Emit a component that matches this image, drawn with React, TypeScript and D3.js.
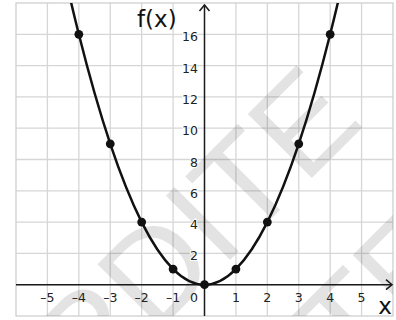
import React from "react";
import * as d3 from "d3";

// f(x) = x² sampled at integer x
const pointX = [-4, -3, -2, -1, 0, 1, 2, 3, 4];
const pointY = [16, 9, 4, 1, 0, 1, 4, 9, 16];

// extra table rows so the curve runs off the top of the grid
const curveX = [-6, -5, -4, -3, -2, -1, 0, 1, 2, 3, 4, 5, 6];
const curveY = [36, 25, 16, 9, 4, 1, 0, 1, 4, 9, 16, 25, 36];

const xTicks = [-5, -4, -3, -2, -1, 1, 2, 3, 4, 5];
const yTicks = [2, 4, 6, 8, 10, 12, 14, 16];
const xGrid = [-5, -4, -3, -2, -1, 1, 2, 3, 4, 5];
const yGrid = [0, 2, 4, 6, 8, 10, 12, 14, 16];

const W = 396;
const H = 320;
const LABEL_FONT = "'DejaVu Sans', Verdana, sans-serif";

export default function App() {
  const x = d3.scaleLinear().domain([-6, 6]).range([16, 393]);
  const y = d3.scaleLinear().domain([-2, 18]).range([316, 3]);

  const line = d3
    .line<number>()
    .x((_, i) => x(curveX[i]))
    .y((d) => y(d))
    .curve(d3.curveCatmullRom.alpha(0));

  const x0 = x(0);
  const y0 = y(0);
  const left = x(-6);
  const right = x(6);
  const top = y(18);
  const bottom = y(-2);

  const fmt = (v: number) => (v < 0 ? "\u2013" + Math.abs(v) : String(v));

  return (
    <svg
      width={W}
      height={H}
      style={{ position: "absolute", left: 0, top: 0, background: "#fff" }}
    >
      <defs>
        <clipPath id="plot">
          <rect x={left} y={top} width={right - left} height={bottom - top} />
        </clipPath>
      </defs>

      {/* grid */}
      <g stroke="#d6d6d6" strokeWidth={1.3}>
        {xGrid.map((v) => (
          <line key={"gx" + v} x1={x(v)} x2={x(v)} y1={top} y2={bottom} />
        ))}
        {yGrid.map((v) => (
          <line key={"gy" + v} x1={left} x2={right} y1={y(v)} y2={y(v)} />
        ))}
      </g>
      <rect
        x={left}
        y={top}
        width={right - left}
        height={bottom - top}
        fill="none"
        stroke="#cfcfcf"
        strokeWidth={1.3}
      />

      {/* watermark */}
      <g
        clipPath="url(#plot)"
        fill="#000"
        fillOpacity={0.11}
        fontFamily="'Liberation Sans', Arial, sans-serif"
        fontSize={132}
      >
        <text transform="translate(-126,616) rotate(-45)">INTERDITE</text>
        <text transform="translate(-21,757) rotate(-45)">INTERDITE</text>
      </g>

      {/* axes */}
      <g stroke="#1a1a1a" strokeWidth={1.5} fill="none">
        <line x1={left} x2={right - 1} y1={y0} y2={y0} />
        <polyline points={`${right - 7},${y0 - 5} ${right - 1},${y0} ${right - 7},${y0 + 5}`} />
        <line x1={x0} x2={x0} y1={bottom} y2={top + 2} />
        <polyline points={`${x0 - 5},${top + 8} ${x0},${top + 2} ${x0 + 5},${top + 8}`} />
      </g>

      {/* tick labels */}
      <g fontFamily={LABEL_FONT} fontSize={12.5} fill="#222">
        {xTicks.map((v) => (
          <text key={"tx" + v} x={x(v)} y={y0 + 17} textAnchor="middle">
            {fmt(v)}
          </text>
        ))}
        <text x={x0 - 6.5} y={y0 + 17} textAnchor="end">
          0
        </text>
        {yTicks.map((v) => (
          <text
            key={"ty" + v}
            x={x0 - 6.5}
            y={y(v) + 7}
            textAnchor="end"
            stroke="#fff"
            strokeWidth={2}
            paintOrder="stroke"
          >
            {v}
          </text>
        ))}
      </g>

      {/* axis titles */}
      <g fontFamily={LABEL_FONT} fontSize={23} fill="#111">
        <text x={137} y={27}>
          f(x)
        </text>
        <text x={385} y={314} textAnchor="middle">
          x
        </text>
      </g>

      {/* curve and points */}
      <g clipPath="url(#plot)">
        <path d={line(curveY) || ""} fill="none" stroke="#111" strokeWidth={2.5} />
        {pointX.map((v, i) => (
          <circle key={"p" + v} cx={x(v)} cy={y(pointY[i])} r={4.4} fill="#111" />
        ))}
      </g>
    </svg>
  );
}
